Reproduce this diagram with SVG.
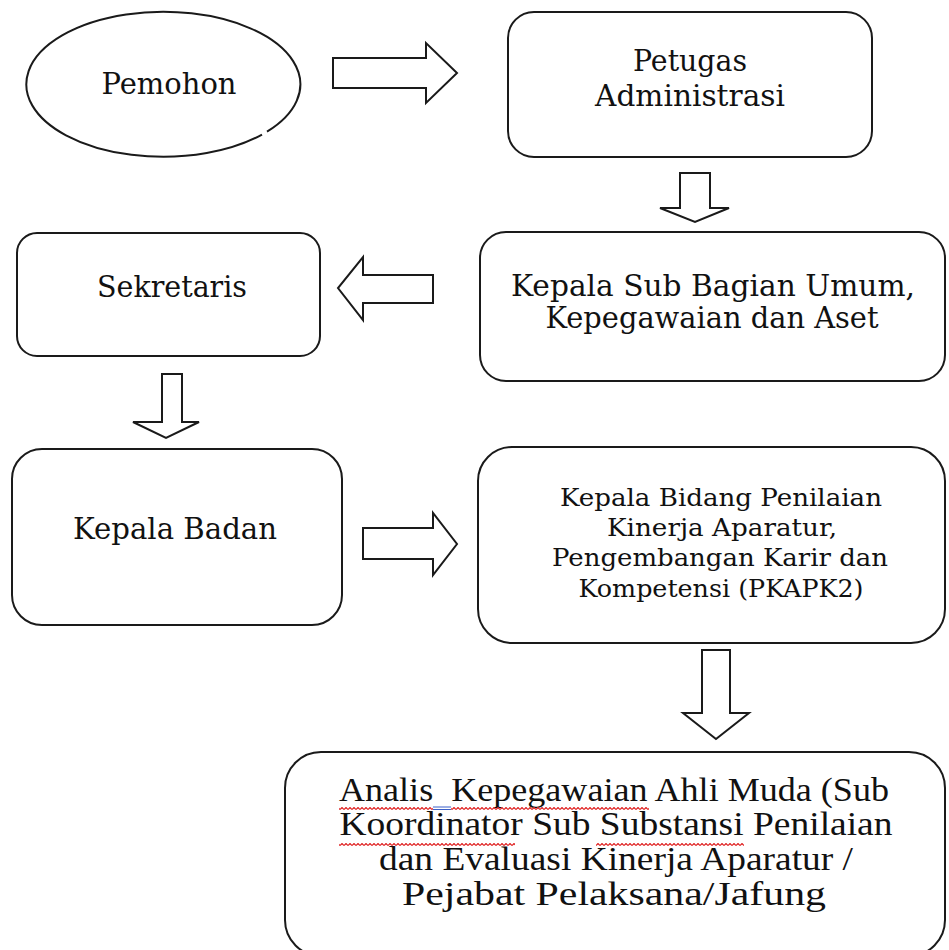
<svg xmlns="http://www.w3.org/2000/svg" width="949" height="950" viewBox="0 0 949 950">
<style>
.box{fill:#fff;stroke:#1a1a1a;stroke-width:2}
.arr{fill:#fff;stroke:#1a1a1a;stroke-width:2;stroke-linejoin:miter}
.t{font-family:"DejaVu Serif","Liberation Serif",serif;fill:#111;text-anchor:middle}
.t30{font-size:29px}
.t24{font-size:24px}
.tb{font-family:"Liberation Serif","DejaVu Serif",serif;font-size:34px;fill:#111;text-anchor:middle}
</style>
<defs>
<pattern id="squig" x="0" y="0" width="4" height="3" patternUnits="userSpaceOnUse">
<polyline points="0,2.5 2,0.5 4,2.5" fill="none" stroke="#e02424" stroke-width="1.2"/>
</pattern>
</defs>
<rect width="949" height="950" fill="#fff"/>

<g id="pemohon">
<path class="box" d="M267,131.7 A137,72.5 0 1 0 262,134.6"/>
<text class="t t30" x="169" y="94" textLength="135" lengthAdjust="spacingAndGlyphs">Pemohon</text>
</g>

<g id="petugas">
<rect class="box" x="508" y="12" width="364" height="145" rx="26" ry="26"/>
<text class="t t30" x="690" y="71" textLength="114" lengthAdjust="spacingAndGlyphs">Petugas</text>
<text class="t t30" x="690" y="106" textLength="190" lengthAdjust="spacingAndGlyphs">Administrasi</text>
</g>

<g id="sekretaris">
<rect class="box" x="17" y="233" width="303" height="123" rx="20" ry="20"/>
<text class="t t30" x="172" y="297" textLength="150" lengthAdjust="spacingAndGlyphs">Sekretaris</text>
</g>

<g id="kasubag">
<rect class="box" x="480" y="232" width="465" height="149" rx="26" ry="26"/>
<text class="t t30" x="713" y="296" textLength="404" lengthAdjust="spacingAndGlyphs">Kepala Sub Bagian Umum,</text>
<text class="t t30" x="712" y="328" textLength="333" lengthAdjust="spacingAndGlyphs">Kepegawaian dan Aset</text>
</g>

<g id="kepala-badan">
<rect class="box" x="12" y="449" width="330" height="176" rx="30" ry="30"/>
<text class="t t30" x="175" y="539" textLength="204" lengthAdjust="spacingAndGlyphs">Kepala Badan</text>
</g>

<g id="kabid">
<rect class="box" x="478" y="447" width="467" height="196" rx="34" ry="34"/>
<text class="t t24" x="721" y="506" textLength="322" lengthAdjust="spacingAndGlyphs">Kepala Bidang Penilaian</text>
<text class="t t24" x="722" y="536" textLength="230" lengthAdjust="spacingAndGlyphs">Kinerja Aparatur,</text>
<text class="t t24" x="720" y="566" textLength="336" lengthAdjust="spacingAndGlyphs">Pengembangan Karir dan</text>
<text class="t t24" x="721" y="597" textLength="285" lengthAdjust="spacingAndGlyphs">Kompetensi (PKAPK2)</text>
</g>

<g id="analis">
<rect class="box" x="285" y="752" width="660" height="204" rx="36" ry="36"/>
<text class="tb" x="614" y="801" textLength="550" lengthAdjust="spacingAndGlyphs" xml:space="preserve">Analis  Kepegawaian Ahli Muda (Sub</text>
<text class="tb" x="616" y="835" textLength="553" lengthAdjust="spacingAndGlyphs">Koordinator Sub Substansi Penilaian</text>
<text class="tb" x="616" y="870" textLength="474" lengthAdjust="spacingAndGlyphs">dan Evaluasi Kinerja Aparatur /</text>
<text class="tb" x="614" y="905" textLength="424" lengthAdjust="spacingAndGlyphs">Pejabat Pelaksana/Jafung</text>
<rect x="339" y="807" width="94" height="3" fill="url(#squig)"/>
<rect x="451" y="807" width="198" height="3" fill="url(#squig)"/>
<line x1="433" y1="807" x2="451" y2="807" stroke="#3b5fc8" stroke-width="1"/>
<line x1="433" y1="809.5" x2="451" y2="809.5" stroke="#3b5fc8" stroke-width="1"/>
<rect x="339" y="843" width="176" height="3" fill="url(#squig)"/>
<rect x="596" y="843" width="148" height="3" fill="url(#squig)"/>
</g>

<g id="connectors">
<polygon class="arr" points="333,58 426,58 426,43 457,73 426,103 426,88 333,88"/>
<polygon class="arr" points="680,173 710,173 710,208 729,208 695,222 660,208 680,208"/>
<polygon class="arr" points="433,275 363,275 363,257 338,288 363,320 363,303 433,303"/>
<polygon class="arr" points="162,374 182,374 182,422 199,422 166,438 133,422 162,422"/>
<polygon class="arr" points="363,528 433,528 433,513 457,544 433,575 433,559 363,559"/>
<polygon class="arr" points="702,650 730,650 730,713 749,713 716,739 683,713 702,713"/>
</g>
</svg>
